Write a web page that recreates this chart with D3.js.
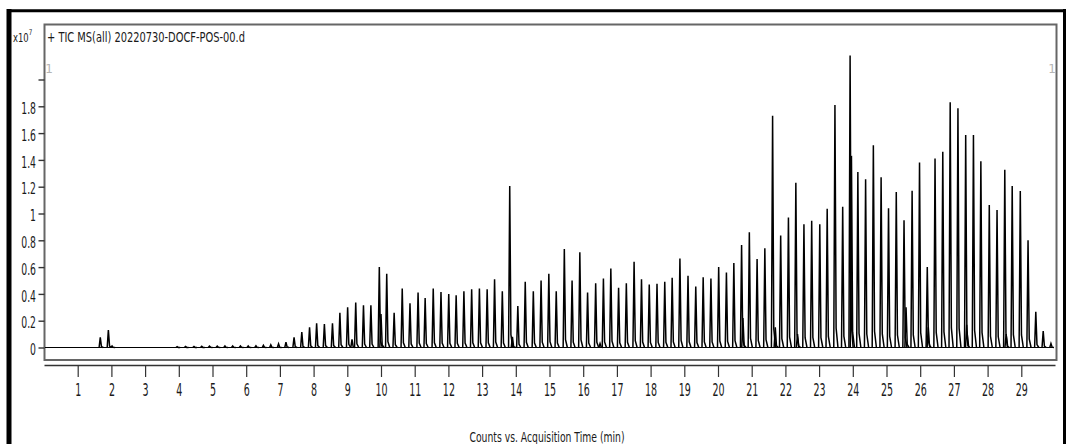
<!DOCTYPE html>
<html>
<head>
<meta charset="utf-8">
<script src="https://cdn.jsdelivr.net/npm/d3@7"></script>
<style>
  body { margin: 0; background: #fff; }
  svg { display: block; }
  text { font-family: "DejaVu Sans", sans-serif; fill: #1a1a1a; }
</style>
</head>
<body>
<script>
// peak table: retention time (min) and height (x10^7 counts)
const peakTimes = [
  1.67, 1.91, 2.02,
  3.95, 4.2, 4.45, 4.68, 4.91, 5.14, 5.37, 5.6, 5.83, 6.06, 6.29, 6.51, 6.73, 6.96,
  7.18, 7.42, 7.65, 7.88, 8.09, 8.32, 8.56, 8.78, 9.01, 9.14, 9.25, 9.48, 9.7,
  9.95, 10.0, 10.17, 10.39, 10.63, 10.86, 11.1, 11.31, 11.55, 11.78, 12.01, 12.23,
  12.46, 12.69, 12.92, 13.15, 13.37, 13.6, 13.82, 13.9, 14.06, 14.28, 14.52, 14.75,
  14.98, 15.2, 15.44, 15.67, 15.9, 16.13, 16.37, 16.5, 16.6, 16.82, 17.05, 17.28,
  17.51, 17.73, 17.96, 18.19, 18.42, 18.64, 18.87, 19.11, 19.34, 19.56, 19.79,
  20.02, 20.25, 20.47, 20.7, 20.74, 20.93, 21.16, 21.39, 21.62, 21.7, 21.86, 22.09,
  22.31, 22.36, 22.55, 22.78, 23.02, 23.24, 23.47, 23.7, 23.92, 23.96, 24.15, 24.38,
  24.61, 24.84, 25.06, 25.29, 25.52, 25.58, 25.76, 25.98, 26.21, 26.24, 26.44,
  26.67, 26.89, 27.12, 27.35, 27.38, 27.58, 27.8, 28.05, 28.28, 28.51, 28.55,
  28.73, 28.97, 29.2, 29.43, 29.65, 29.88
];
const peakHeights = [
  0.075, 0.13, 0.012,
  0.006, 0.008, 0.008, 0.009, 0.01, 0.01, 0.011, 0.011, 0.012, 0.012, 0.013, 0.016, 0.02, 0.027,
  0.04, 0.075, 0.115, 0.15, 0.18, 0.175, 0.18, 0.26, 0.30, 0.06, 0.335, 0.315, 0.315,
  0.60, 0.25, 0.55, 0.26, 0.44, 0.33, 0.41, 0.37, 0.44, 0.414, 0.40, 0.39,
  0.42, 0.435, 0.44, 0.435, 0.51, 0.42, 1.205, 0.08, 0.31, 0.49, 0.42, 0.50,
  0.55, 0.42, 0.735, 0.50, 0.71, 0.41, 0.48, 0.03, 0.515, 0.59, 0.445, 0.48,
  0.64, 0.51, 0.47, 0.476, 0.49, 0.52, 0.665, 0.535, 0.455, 0.525, 0.515,
  0.60, 0.56, 0.63, 0.765, 0.22, 0.86, 0.66, 0.74, 1.73, 0.15, 0.835, 0.97,
  1.23, 0.10, 0.92, 0.945, 0.92, 1.035, 1.81, 1.05, 2.18, 1.43, 1.31, 1.255,
  1.51, 1.27, 1.04, 1.16, 0.95, 0.30, 1.17, 1.38, 0.60, 0.15, 1.41,
  1.46, 1.83, 1.785, 1.585, 0.17, 1.585, 1.39, 1.063, 1.026, 1.327, 0.10,
  1.205, 1.168, 0.80, 0.267, 0.123, 0.03
];

const xTicks = [1, 2, 3, 4, 5, 6, 7, 8, 9, 10, 11, 12, 13, 14, 15, 16, 17, 18, 19, 20,
                21, 22, 23, 24, 25, 26, 27, 28, 29];
const yTicks = [0, 0.2, 0.4, 0.6, 0.8, 1, 1.2, 1.4, 1.6, 1.8, 2];
const yTickLabels = ["0", "0.2", "0.4", "0.6", "0.8", "1", "1.2", "1.4", "1.6", "1.8", ""];

const title = "+ TIC MS(all) 20220730-DOCF-POS-00.d";
const xLabel = "Counts vs. Acquisition Time (min)";

const width = 1066, height = 444;

const svg = d3.select('body')
    .append('svg')
    .attr('width', width)
    .attr('height', height);

svg.append('rect')
    .attr('width', width)
    .attr('height', height)
    .attr('fill', '#fff');

const xScale = d3.scaleLinear()
    .domain([0, 30])
    .range([44, 1055]);

const yScale = d3.scaleLinear()
    .domain([0, 1.8])
    .range([347.5, 106.3]);

// outer black border of the screenshot
svg.append('line').attr('x1', 9).attr('x2', 9).attr('y1', 9).attr('y2', height)
    .attr('stroke', '#000').attr('stroke-width', 5);
svg.append('line').attr('x1', 7).attr('x2', width).attr('y1', 10.7).attr('y2', 10.7)
    .attr('stroke', '#000').attr('stroke-width', 3);
svg.append('line').attr('x1', 1064.5).attr('x2', 1064.5).attr('y1', 9).attr('y2', height)
    .attr('stroke', '#000').attr('stroke-width', 3);

// plot frame
svg.append('rect')
    .attr('x', 44.5)
    .attr('y', 24.5)
    .attr('width', 1012)
    .attr('height', 335.5)
    .attr('fill', 'none')
    .attr('stroke', '#666')
    .attr('stroke-width', 2);

// x axis
const xAxis = d3.axisBottom(xScale)
    .tickValues(xTicks)
    .tickSize(12)
    .tickSizeOuter(0)
    .tickFormat(d3.format('d'));

const gx = svg.append('g')
    .attr('transform', 'translate(0, 365)')
    .call(xAxis);
gx.select('.domain').attr('stroke', '#333').attr('stroke-width', 1.6);
gx.selectAll('.tick line').attr('stroke', '#333').attr('stroke-width', 1.2);
gx.selectAll('.tick text')
    .attr('y', 19)
    .attr('font-size', 17)
    .attr('font-family', 'DejaVu Sans')
    .attr('fill', '#1a1a1a')
    .attr('transform', 'scale(0.56,1)');

// y axis
const yAxis = d3.axisLeft(yScale)
    .tickValues(yTicks)
    .tickSize(6)
    .tickSizeOuter(0)
    .tickFormat((d, i) => yTickLabels[i]);

const gy = svg.append('g')
    .attr('transform', 'translate(44.5, 0)')
    .call(yAxis);
gy.select('.domain').remove();
gy.selectAll('.tick line').attr('stroke', '#333').attr('stroke-width', 1.4);
gy.selectAll('.tick text')
    .attr('x', -8.5 / 0.58)
    .attr('dy', '0.45em')
    .attr('font-size', 16)
    .attr('font-family', 'DejaVu Sans')
    .attr('fill', '#1a1a1a')
    .attr('transform', 'scale(0.58,1)');

// trace
const line = d3.line()
    .x(d => xScale(d[0]))
    .y(d => yScale(d[1]));

const trace = svg.append('g')
    .attr('fill', 'none')
    .attr('stroke', '#000')
    .attr('stroke-width', 1.5)
    .attr('stroke-linejoin', 'miter');

trace.append('path')
    .attr('d', line([[0.03, 0], [29.96, 0]]))
    .attr('stroke-width', 1.1);

peakTimes.forEach((t, i) => {
    const h = peakHeights[i];
    trace.append('path')
        .attr('d', line([[t - 0.035, 0], [t, h], [t + 0.035, h * 0.08], [t + 0.09, 0]]));
});

// texts
svg.append('text')
    .attr('x', 47)
    .attr('y', 41.5)
    .attr('font-size', 14)
    .attr('textLength', 198)
    .attr('lengthAdjust', 'spacingAndGlyphs')
    .text(title);

// y multiplier, one text with a raised 7
const mult = svg.append('text')
    .attr('transform', 'translate(13, 41.5) scale(0.7,1)')
    .attr('font-size', 12);
mult.append('tspan').text('x10');
mult.append('tspan')
    .attr('dy', -7)
    .attr('font-size', 8)
    .text('7');

svg.selectAll('text.marker')
    .data([49, 1052])
    .enter().append('text')
    .attr('class', 'marker')
    .attr('x', d => d)
    .attr('y', 73)
    .attr('font-size', 12)
    .attr('text-anchor', 'middle')
    .style('fill', '#b5b5b5')
    .text('1');

svg.append('text')
    .attr('x', 547)
    .attr('y', 442)
    .attr('font-size', 14)
    .attr('text-anchor', 'middle')
    .attr('textLength', 155)
    .attr('lengthAdjust', 'spacingAndGlyphs')
    .text(xLabel);
</script>
</body>
</html>
